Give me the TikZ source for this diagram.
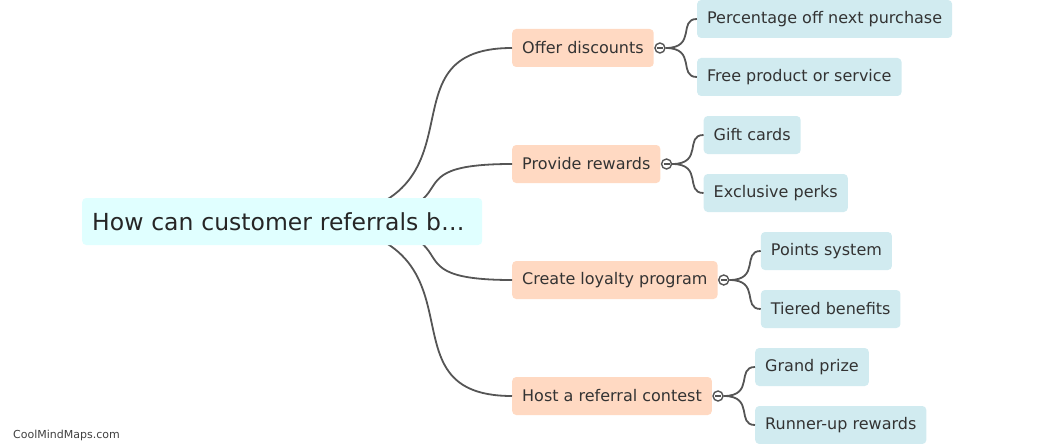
\documentclass[tikz,border=0pt]{standalone}
\usepackage{fontspec}
\setmainfont{DejaVu Sans}
\usetikzlibrary{calc}
\definecolor{rootfill}{RGB}{224,255,255}
\definecolor{branchfill}{RGB}{255,217,194}
\definecolor{leaffill}{RGB}{209,235,240}
\definecolor{linec}{RGB}{85,85,85}
\definecolor{textc}{RGB}{51,51,51}
\begin{document}
\begin{tikzpicture}[x=1pt,y=-1pt,
  rootbox/.style={fill=rootfill, rounded corners=4pt, anchor=west, text width=380pt, align=left,
    minimum height=47pt, inner xsep=10pt, inner ysep=0pt, text=black!85, font=\fontsize{23.5}{28}\selectfont},
  branchbox/.style={fill=branchfill, rounded corners=4pt, anchor=west, minimum height=38pt,
    inner xsep=10pt, inner ysep=0pt, text=textc, font=\fontsize{16}{19}\selectfont},
  leafbox/.style={fill=leaffill, rounded corners=4pt, anchor=west, minimum height=38pt,
    inner xsep=10pt, inner ysep=0pt, text=textc, font=\fontsize{16}{19}\selectfont},
  toggle/.style={circle, draw=linec, line width=1.4pt, fill=white, minimum size=10pt, inner sep=0pt},
  conn/.style={draw=linec, line width=1.8pt},
  mark/.style={}, 
]
\useasboundingbox (0,0) rectangle (1045,444);

% branch nodes
\node[branchbox] (b1) at (512,48) {Offer discounts};
\node[branchbox] (b2) at (512,164) {Provide rewards};
\node[branchbox] (b3) at (512,280) {Create loyalty program};
\node[branchbox] (b4) at (512,396) {Host a referral contest};

% root connectors (drawn below the root)
\coordinate (rc) at (282,221.5);
\foreach \b in {b1,b2,b3,b4}{
  \path[conn] (rc) .. controls (rc -| \b.west) and ($(rc |- \b.west)+(84,0)$) .. (\b.west);
}
\node[rootbox] (root) at (82,221.5) {How can customer referrals b\ldots};

% toggles
\foreach \b in {b1,b2,b3,b4}{
  \node[toggle] (t\b) at ($(\b.east)+(6,0)$) {};
  \draw[linec, line width=1.2pt] ($(t\b.center)+(-3,0)$) -- ($(t\b.center)+(3,0)$);
}

% leaves
\node[leafbox] (l1) at ($(tb1.center |- 0,19)+(37,0)$) {Percentage off next purchase};
\node[leafbox] (l2) at ($(tb1.center |- 0,77)+(37,0)$) {Free product or service};
\node[leafbox] (l3) at ($(tb2.center |- 0,135)+(37,0)$) {Gift cards};
\node[leafbox] (l4) at ($(tb2.center |- 0,193)+(37,0)$) {Exclusive perks};
\node[leafbox] (l5) at ($(tb3.center |- 0,251)+(37,0)$) {Points system};
\node[leafbox] (l6) at ($(tb3.center |- 0,309)+(37,0)$) {Tiered benefits};
\node[leafbox] (l7) at ($(tb4.center |- 0,367)+(37,0)$) {Grand prize};
\node[leafbox] (l8) at ($(tb4.center |- 0,425)+(37,0)$) {Runner-up rewards};

\foreach \t/\l in {tb1/l1,tb1/l2,tb2/l3,tb2/l4,tb3/l5,tb3/l6,tb4/l7,tb4/l8}{
  \path[conn] (\t.east) .. controls (\t.east -| \l.west) and ($(\t.east |- \l.west)+(12,0)$) .. (\l.west);
}

\node[anchor=west, text=black!75, font=\fontsize{11}{13}\selectfont, inner sep=0pt] (wm) at (13,435) {CoolMindMaps.com};
\end{tikzpicture}
\end{document}
